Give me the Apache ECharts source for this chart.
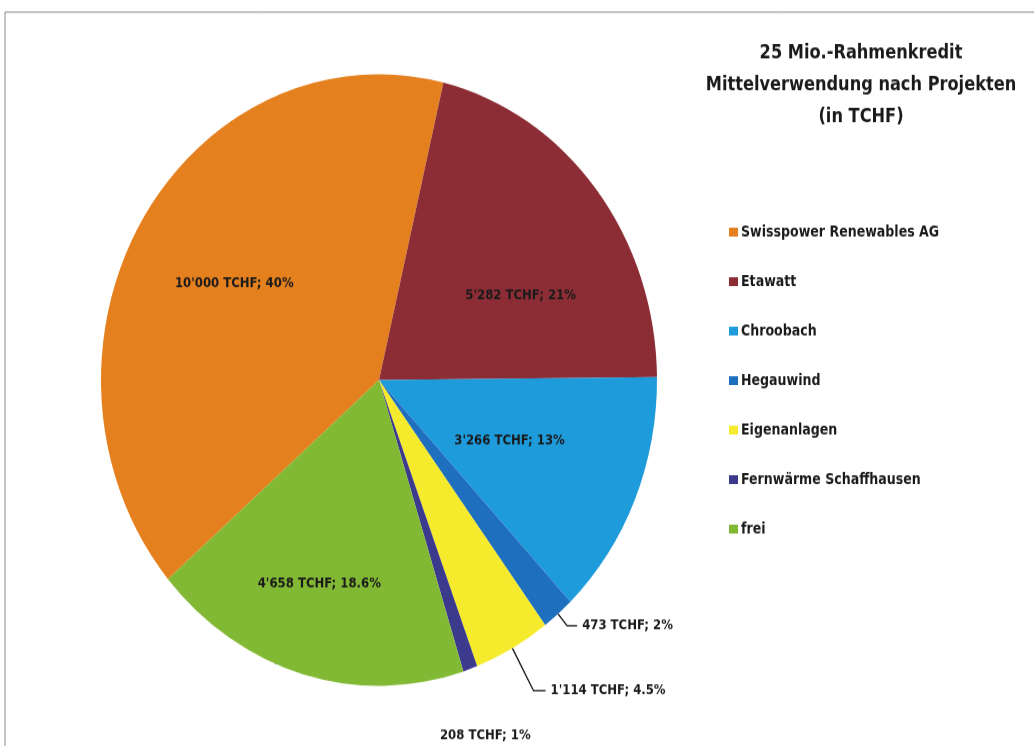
<!DOCTYPE html>
<html>
<head>
<meta charset="utf-8">
<script src="https://cdn.jsdelivr.net/npm/echarts@6/dist/echarts.min.js"></script>
<style>
html { overflow: hidden; }
body { margin: 0; padding: 0; background: #fff; }
#wrap { width: 1034px; height: 746px; position: relative; }
/* the scanned original is stretched vertically, so the whole chart is too */
#main { position: absolute; left: 0; top: 0; width: 1034px; height: 678px; transform: scaleY(1.1); transform-origin: 0 0; }
</style>
</head>
<body>
<div id="wrap"><div id="main"></div></div>
<script>
var names = ['Swisspower Renewables AG', 'Etawatt', 'Chroobach', 'Hegauwind', 'Eigenanlagen', 'Fernwärme Schaffhausen', 'frei'];
var values = [10000, 5282, 3266, 473, 1114, 208, 4658];
var shares = ['40%', '21%', '13%', '2%', '4.5%', '1%', '18.6%'];
var colors = ['#e5801f', '#8c2d35', '#1e9bdb', '#1f6fbf', '#f6ea2c', '#3c3a8c', '#82b934'];

var FONT = '"Liberation Sans Narrow", "DejaVu Sans Condensed", sans-serif';
var CX = 379, CY = 345.5, R = 278, START = 220.6;

// inside labels: radius fraction and angle nudge per slice
var insideR = { 0: 0.61, 1: 0.58, 2: 0.51, 6: 0.70 };
var insideNudge = { 1: -10, 6: -2 };

function fmt(v) {
	return String(v).replace(/\B(?=(\d{3})+(?!\d))/g, "'");
}

var total = values.reduce(function (a, b) { return a + b; }, 0);
function midAngle(i) {
	var cum = 0;
	for (var k = 0; k < i; k++) cum += values[k];
	return (START - 360 * (cum + values[i] / 2) / total) * Math.PI / 180;
}

var data = names.map(function (n, i) {
	var item = { name: n, value: values[i], itemStyle: { color: colors[i] } };
	if (i === 3) {
		item.label = { position: 'outside' };
		item.labelLine = { show: true, length: 14, length2: 10 };
	} else if (i === 4) {
		item.label = { position: 'outside' };
		item.labelLine = { show: true, length: 44, length2: 12 };
	} else if (i === 5) {
		item.label = { position: 'outside' };
		item.labelLine = { show: false };
	}
	return item;
});

var chart = echarts.init(document.getElementById('main'));
chart.setOption({
	backgroundColor: '#fff',
	animation: false,
	title: {
		text: '25 Mio.-Rahmenkredit\nMittelverwendung nach Projekten\n(in TCHF)',
		left: 856,
		top: 29,
		textAlign: 'center',
		textStyle: {
			fontFamily: FONT,
			fontSize: 18,
			fontWeight: 'bold',
			lineHeight: 29,
			color: '#1a1a1a'
		}
	},
	legend: {
		orient: 'vertical',
		left: 724,
		top: 198,
		itemWidth: 9,
		itemHeight: 8,
		itemGap: 29,
		icon: 'rect',
		selectedMode: false,
		textStyle: {
			fontFamily: FONT,
			fontSize: 14,
			fontWeight: 'bold',
			lineHeight: 16,
			color: '#1a1a1a',
			padding: [0, 0, 0, -2]
		},
		data: names
	},
	graphic: [{
		type: 'rect',
		shape: { x: 5, y: 11, width: 1100, height: 800 },
		style: { fill: null, stroke: '#8a8a8a', lineWidth: 1 }
	}],
	series: [{
		type: 'pie',
		center: [CX, CY],
		radius: [0, R],
		startAngle: START,
		clockwise: true,
		avoidLabelOverlap: false,
		emphasis: { disabled: true },
		itemStyle: { borderWidth: 0 },
		label: {
			show: true,
			position: 'inside',
			formatter: function (p) {
				return fmt(p.value) + ' TCHF; ' + shares[p.dataIndex];
			},
			fontFamily: FONT,
			fontSize: 13,
			fontWeight: 'bold',
			color: '#1a1a1a'
		},
		labelLine: {
			lineStyle: { color: '#111', width: 1.3 }
		},
		labelLayout: function (p) {
			var i = p.dataIndex;
			if (insideR[i] != null) {
				var a = midAngle(i) + (insideNudge[i] || 0) * Math.PI / 180;
				return {
					x: CX + R * insideR[i] * Math.cos(a),
					y: CY - R * insideR[i] * Math.sin(a),
					align: 'center',
					verticalAlign: 'middle'
				};
			}
			if (i === 5) {
				var b = midAngle(i);
				return {
					x: CX + R * Math.cos(b) + 15,
					y: CY - R * Math.sin(b) + 61,
					align: 'center',
					verticalAlign: 'middle'
				};
			}
		},
		data: data
	}]
});
</script>
</body>
</html>
